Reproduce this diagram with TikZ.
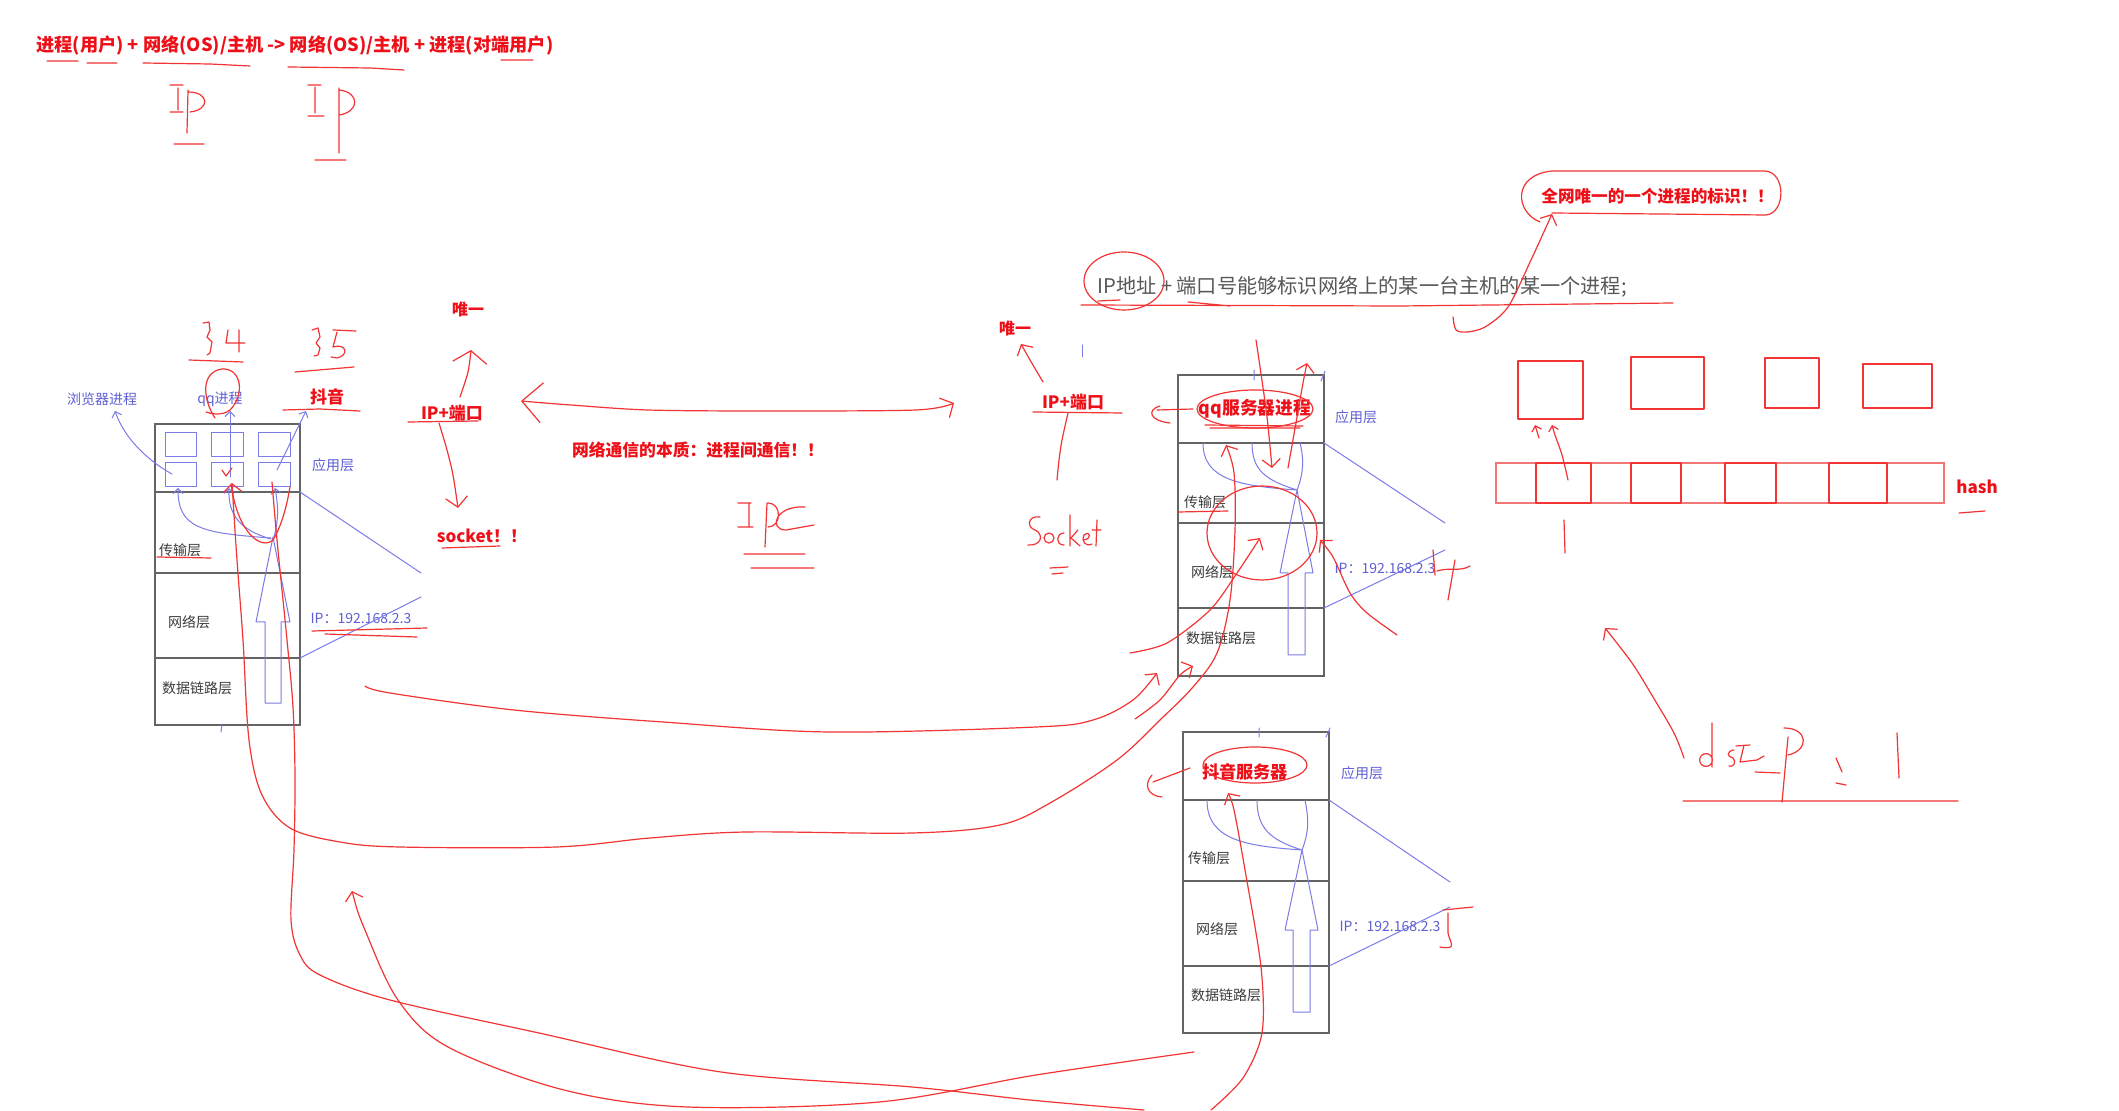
\documentclass[tikz,border=0pt]{standalone}
\usepackage{fontspec}
\setmainfont{Noto Sans CJK SC}
\usetikzlibrary{arrows.meta}

\definecolor{inkred}{RGB}{242,52,52}
\definecolor{palered}{RGB}{242,120,120}
\definecolor{txtred}{RGB}{238,16,24}
\definecolor{inkblue}{RGB}{124,124,230}
\definecolor{txtblue}{RGB}{96,96,212}
\definecolor{boxgray}{RGB}{100,100,100}
\definecolor{txtgray}{RGB}{60,60,60}
\definecolor{notegray}{RGB}{88,88,88}

\tikzset{
  ink/.style={draw=inkred, line width=0.6pt, line cap=round, line join=round},
  bink/.style={draw=inkblue, line width=0.5pt, line cap=round, line join=round},
  barb/.style={-{Straight Barb[length=4pt,width=9pt]}},
  sbarb/.style={-{Straight Barb[length=2.5pt,width=5pt]}},
  stackbox/.style={draw=boxgray, line width=0.9pt},
  layerlbl/.style={text=txtgray, font=\fontsize{7}{8}\selectfont, inner sep=0pt},
  bluelbl/.style={text=txtblue, font=\fontsize{7}{8}\selectfont, inner sep=0pt},
  redlbl/.style={text=txtred, font=\bfseries\fontsize{8.5}{10}\selectfont, inner sep=0pt},
}

\begin{document}
\begin{tikzpicture}[x=0.5pt, y=-0.5pt]
  \useasboundingbox[fill=white] (0,0) rectangle (2119,1111);

  % Formula at the top.
  \node[redlbl, font=\bfseries\fontsize{9.1}{10}\selectfont, anchor=west] (formula) at (36,45)
    {进程(用户) + 网络(OS)/主机 -> 网络(OS)/主机 + 进程(对端用户)};
  \draw[ink] (47,61) -- (78,61) (87,63) -- (117,63) (143,63) -- (210,64) -- (250,66)
    (288,67) -- (370,68) -- (404,70) (501,60) -- (533,60);
  % Hand written IP, IP.
  \draw[ink] (170,85) -- (183,85) (178,88) -- (178,110) (170,112) -- (183,112)
    (188,90) -- (187,133) (188,92) .. controls (210,92) and (210,110) .. (190,112) (174,144) -- (204,144);
  \draw[ink] (308,85) -- (321,85) (315,87) -- (315,113) (308,116) -- (324,116)
    (339,88) -- (339,153) (339,90) .. controls (360,92) and (360,112) .. (339,115) (315,160) -- (346,160);

  % Client host.
  \draw[stackbox] (155,424) rectangle (300,725);
  \draw[stackbox] (155,492) -- (300,492) (155,573) -- (300,573) (155,658) -- (300,658);
  \draw[bink] (165,433) rectangle (196,457) (211,433) rectangle (243,457) (258,433) rectangle (290,457)
    (165,463) rectangle (196,487) (211,463) rectangle (243,487) (258,463) rectangle (290,487);
  \draw[bink] (265,703) -- (265,622) -- (256,622) -- (273,537) -- (290,622) -- (281,622) -- (281,703) -- cycle;
  \draw[bink, sbarb] (271,538) .. controls (200,533) and (178,528) .. (178,488);
  \draw[bink, sbarb] (271,539) .. controls (240,530) and (228,515) .. (229,488);
  \draw[bink, sbarb] (274,537) .. controls (280,515) and (277,500) .. (275,488);
  \draw[bink] (222,725) -- (221,732);
  \node[layerlbl] (transL) at (180,550) {传输层};
  \node[layerlbl] (netL) at (189,622) {网络层};
  \node[layerlbl] (linkL) at (197,688) {数据链路层};
  \node[bluelbl] (appL) at (333,465) {应用层};
  \node[bluelbl] (ipL) at (361,618) {IP：192.168.2.3};
  \draw[bink] (300,492) -- (421,573) (300,658) -- (421,597);
  \draw[ink] (157,557) -- (211,558) (312,631) -- (427,628) (325,634) -- (417,637);
  % Processes on the client.
  \node[bluelbl] (browser) at (102,399) {浏览器进程};
  \node[bluelbl] (qqproc) at (220,399) {qq进程};
  \node[redlbl] (douyin) at (327,397) {抖音};
  \draw[bink, sbarb] (172,474) .. controls (150,462) and (125,440) .. (115,411);
  \draw[bink, sbarb] (230,477) -- (230,411);
  \draw[bink, sbarb] (277,470) -- (306,411);
  \draw[ink] (283,410) -- (320,409) -- (360,411) (222,470) -- (226,476) -- (232,468);
  % Port numbers 34 and 35.
  \draw[ink] (203,323) -- (209,322) -- (210,330) -- (207,337) -- (212,342) -- (210,353) -- (207,355)
    (228,330) -- (226,343) -- (245,343) (239,330) -- (239,352) (189,360) -- (243,362);
  \draw[ink] (215,418) .. controls (203,400) and (200,372) .. (222,369)
    .. controls (242,368) and (245,395) .. (230,410) .. controls (222,416) and (212,414) .. (206,412);
  \draw[ink] (312,330) -- (318,328) -- (320,337) -- (316,343) -- (320,348) -- (318,355) -- (314,356)
    (333,330) -- (356,331) (337,332) -- (333,347) .. controls (346,343) and (350,355) .. (337,358) -- (331,357)
    (295,372) -- (354,367);

  % IP + port on the left.
  \node[redlbl, font=\bfseries\fontsize{8}{10}\selectfont] (onlyL) at (468,309) {唯一};
  \node[redlbl] (ipportL) at (452,413) {IP+端口};
  \node[redlbl] (sockL) at (482,536) {socket！！};
  \draw[ink] (408,422) -- (478,421) (442,548) -- (500,546);
  \draw[ink, -{Straight Barb[length=6pt,width=17pt]}] plot[smooth] coordinates {(460,397) (468,372) (471,350)};
  \draw[ink, -{Straight Barb[length=5pt,width=11pt]}] plot[smooth] coordinates {(439,423) (447,450) (453,475) (458,508)};
  \draw[ink, {Straight Barb[length=10pt,width=20pt]}-{Straight Barb[length=5pt,width=11pt]}]
    plot[smooth] coordinates {(521,401) (571,405) (648,410) (763,411) (916,410) (954,403)};
  \node[redlbl, font=\bfseries\fontsize{8.4}{10}\selectfont] (essence) at (698,450) {网络通信的本质：进程间通信！！};
  % Hand written IPC.
  \draw[ink] (738,503) -- (751,503) (749,503) -- (749,527) (738,527) -- (753,527)
    (767,503) -- (765,547) (768,503) .. controls (782,503) and (782,527) .. (768,527)
    (805,507) .. controls (775,505) and (768,530) .. (786,530) -- (814,525)
    (744,554) -- (805,554) (751,568) -- (814,568);

  % IP + port on the right.
  \node[redlbl, font=\bfseries\fontsize{8}{10}\selectfont] (onlyR) at (1015,328) {唯一};
  \node[redlbl] (ipportR) at (1073,402) {IP+端口};
  \draw[ink] (1033,412) -- (1122,413);
  \draw[ink, -{Straight Barb[length=4pt,width=9pt]}] plot[smooth] coordinates {(1043,382) (1030,360) (1021,344)};
  \draw[ink] plot[smooth] coordinates {(1068,413) (1062,440) (1059,460) (1057,480)};
  \draw[bink] (1082,345) -- (1082,357);
  % Hand written Socket.
  \draw[ink] (1040,517) .. controls (1028,515) and (1026,527) .. (1035,530) .. controls (1044,534) and (1042,546) .. (1028,545)
    (1049,538) circle[radius=2.5pt]
    (1064,533) .. controls (1056,533) and (1055,545) .. (1064,545)
    (1070,515) -- (1070,546) (1078,530) -- (1071,538) -- (1080,546)
    (1083,540) .. controls (1093,539) and (1090,530) .. (1084,535) .. controls (1081,542) and (1086,547) .. (1092,544)
    (1097,520) -- (1096,546) (1092,530) -- (1101,530)
    (1050,568) -- (1068,567) (1052,574) -- (1063,573);

  % Note and the bubble.
  \node[anchor=west, text=notegray, font=\fontsize{10.1}{12}\selectfont, inner sep=0pt] (idea) at (1097,287)
    {IP地址 + 端口号能够标识网络上的某一台主机的某一个进程;};
  \draw[ink] (1081,305) -- (1400,306) -- (1673,303) (1098,301) -- (1120,300) (1188,302) -- (1230,306);
  \draw[ink] (1124,281) ellipse[x radius=20pt, y radius=14.5pt];
  \node[redlbl, font=\bfseries\fontsize{8.3}{10}\selectfont, anchor=west] (unique) at (1541,196) {全网唯一的一个进程的标识！！};
  \draw[ink] (1540,222) .. controls (1515,212) and (1512,175) .. (1552,171) -- (1765,171)
    .. controls (1786,172) and (1786,213) .. (1766,215) -- (1552,213);
  \draw[ink, barb] plot[smooth] coordinates {(1453,317) (1456,330) (1467,332) (1485,327) (1508,307) (1531,260) (1552,214)};

  % qq server.
  \draw[stackbox] (1178,375) rectangle (1324,676);
  \draw[stackbox] (1178,443) -- (1324,443) (1178,523) -- (1324,523) (1178,608) -- (1324,608);
  \draw[bink] (1288,655) -- (1288,573) -- (1280,573) -- (1297,490) -- (1313,573) -- (1305,573) -- (1305,655) -- cycle;
  \draw[bink] (1297,490) .. controls (1240,486) and (1203,480) .. (1203,443)
    (1297,490) .. controls (1265,480) and (1252,470) .. (1252,443)
    (1297,490) .. controls (1305,470) and (1303,455) .. (1300,443);
  \draw[bink] (1254,370) -- (1254,380) (1321,381) -- (1325,371) (1324,443) -- (1445,523) (1324,608) -- (1445,550);
  \node[redlbl, font=\bfseries\fontsize{8.9}{10}\selectfont] (qqsrv) at (1255,409) {qq服务器进程};
  \node[bluelbl] (appQ) at (1356,417) {应用层};
  \node[layerlbl] (transQ) at (1205,502) {传输层};
  \node[layerlbl] (netQ) at (1212,572) {网络层};
  \node[layerlbl] (linkQ) at (1221,638) {数据链路层};
  \node[bluelbl] (ipQ) at (1385,568) {IP：192.168.2.3};
  \draw[ink] (1255,409) ellipse[x radius=29pt, y radius=9.5pt];
  \draw[ink] (1205,425) -- (1303,426) (1210,428) -- (1300,428) (1178,512) -- (1228,511);
  \draw[ink] (1262,533) ellipse[x radius=27.5pt, y radius=23.5pt];
  \draw[ink] (1193,409) -- (1157,410) (1160,406) .. controls (1146,410) and (1150,421) .. (1170,423);
  \draw[ink, barb] plot[smooth] coordinates {(1256,340) (1260,367) (1267,417) (1272,468)};
  \draw[ink, barb] plot[smooth] coordinates {(1288,468) (1297,417) (1303,383) (1307,363)};
  \draw[ink, barb] plot[smooth] coordinates {(1397,635) (1367,613) (1350,593) (1333,557) (1320,540)};
  \draw[ink, barb] plot[smooth] coordinates {(1130,653) (1167,643) (1210,610) (1237,573) (1260,538)};
  \draw[ink, barb] plot[smooth] coordinates {(1135,719) (1160,700) (1180,675) (1193,666)};
  \draw[ink] (1433,550) -- (1435,575) (1437,571) .. controls (1450,567) and (1460,572) .. (1470,566) (1455,560) -- (1448,600);

  % Douyin server.
  \draw[stackbox] (1183,732) rectangle (1329,1033);
  \draw[stackbox] (1183,800) -- (1329,800) (1183,881) -- (1329,881) (1183,966) -- (1329,966);
  \draw[bink] (1293,1012) -- (1293,930) -- (1285,930) -- (1302,850) -- (1318,930) -- (1310,930) -- (1310,1012) -- cycle;
  \draw[bink] (1302,850) .. controls (1245,846) and (1207,840) .. (1207,800)
    (1302,850) .. controls (1270,840) and (1257,828) .. (1257,800)
    (1302,850) .. controls (1310,830) and (1308,815) .. (1305,800);
  \draw[bink] (1259,728) -- (1259,737) (1326,737) -- (1330,728) (1329,800) -- (1450,882) (1329,966) -- (1450,907);
  \node[redlbl, font=\bfseries\fontsize{8.6}{10}\selectfont] (dysrv) at (1245,772) {抖音服务器};
  \node[bluelbl] (appD) at (1362,773) {应用层};
  \node[layerlbl] (transD) at (1209,858) {传输层};
  \node[layerlbl] (netD) at (1217,929) {网络层};
  \node[layerlbl] (linkD) at (1226,995) {数据链路层};
  \node[bluelbl] (ipD) at (1390,926) {IP：192.168.2.3};
  \draw[ink] (1255,765) ellipse[x radius=26pt, y radius=9pt];
  \draw[ink] (1190,768) -- (1153,782) (1152,775) .. controls (1143,785) and (1148,796) .. (1162,797);
  \draw[ink] (1443,910) -- (1473,907) (1448,913) -- (1448,933) .. controls (1450,943) and (1458,950) .. (1440,947);
  \draw[ink, barb] plot[smooth] coordinates {(1211,1110) (1243,1078) (1262,1033) (1261,967) (1245,870) (1234,810) (1228,793)};

  % Long strokes between the hosts.
  \draw[ink] (231,484) .. controls (238,535) and (262,550) .. (273,540) .. controls (282,525) and (287,505) .. (290,487);
  \draw[ink, barb] plot[smooth, tension=0.55] coordinates {(365,686) (390,693) (514,710) (663,722) (829,732)
    (1036,727) (1093,720) (1133,700) (1157,673)};
  \draw[ink, {Straight Barb[length=4pt,width=9pt]}-{Straight Barb[length=4pt,width=9pt]}]
    plot[smooth, tension=0.55] coordinates {(232,483) (237,560) (243,640) (249,740) (262,795) (290,828) (340,842)
    (400,847) (556,847) (650,838) (746,832) (912,833) (1000,825) (1050,803) (1117,760) (1160,720) (1193,687)
    (1217,653) (1230,600) (1235,530) (1234,473) (1226,445)};
  \draw[ink] plot[smooth, tension=0.55] coordinates {(272,482) (277,540) (287,640) (293,707) (295,777) (294,850)
    (291,920) (300,955) (320,975) (390,1000) (539,1033) (721,1072) (912,1087) (1030,1100) (1144,1110)};
  \draw[ink, {Straight Barb[length=4pt,width=9pt]}-] plot[smooth, tension=0.55] coordinates {(352,891) (365,930)
    (398,1000) (448,1047) (564,1090) (688,1107) (879,1102) (1036,1075) (1194,1052)};

  % Hash table.
  \draw[ink] (1518,361) rectangle (1583,419) (1631,357) rectangle (1704,409)
    (1765,358) rectangle (1819,408) (1863,364) rectangle (1932,408);
  \draw[draw=palered, line width=0.6pt] (1496,463) rectangle (1944,503);
  \draw[draw=palered, line width=0.6pt] (1591,463) -- (1591,503) (1681,463) -- (1681,503) (1776,463) -- (1776,503);
  \draw[ink, line width=0.8pt] (1536,463) rectangle (1591,503) (1631,463) rectangle (1681,503)
    (1725,463) rectangle (1776,503) (1829,463) rectangle (1887,503);
  \node[redlbl] (hash) at (1977,487) {hash};
  \draw[ink] (1959,513) -- (1985,511) (1564,520) -- (1565,553);
  \draw[ink, sbarb] plot[smooth] coordinates {(1568,480) (1562,455) (1555,435) (1552,425)};
  \draw[ink, sbarb] (1539,438) -- (1535,425);
  % Hand written dstP: 1.
  \draw[ink] (1706,760) circle[radius=3.2pt] (1712,723) -- (1712,767)
    (1734,750) .. controls (1726,751) and (1727,757) .. (1733,758) .. controls (1737,762) and (1733,768) .. (1729,766)
    (1744,745) -- (1740,762) -- (1757,760) -- (1764,756) (1736,746) -- (1750,745)
    (1755,772) -- (1780,773) (1788,737) -- (1782,802)
    (1784,728) .. controls (1808,728) and (1810,750) .. (1788,755)
    (1836,758) -- (1842,772) (1836,783) -- (1846,785) (1897,733) -- (1899,778)
    (1683,801) -- (1958,801);
  \draw[ink, -{Straight Barb[length=4pt,width=9pt]}] plot[smooth] coordinates {(1684,758) (1674,733) (1653,697) (1632,663) (1605,628)};
\end{tikzpicture}
\end{document}
